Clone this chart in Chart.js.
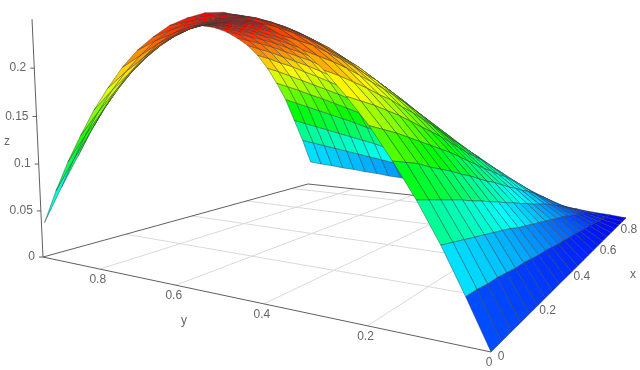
<!DOCTYPE html>
<html>
<head>
    <meta charset="UTF-8">
    <title>Surface</title>
    <script src="https://cdn.jsdelivr.net/npm/chart.js"></script>
    <style>
        body { margin: 0; background: #fff; }
        canvas { display: block; }
    </style>
</head>
<body>
<canvas id="chart" width="640" height="370"></canvas>
<script>
    const xValues = [0,0.04,0.08,0.12,0.16,0.2,0.24,0.28,0.32,0.36,0.4,0.44,0.48,0.52,0.56,0.6,0.64,0.68,0.72,0.76,0.8,0.84,0.88];
    const yValues = [0,0.04,0.08,0.12,0.16,0.2,0.24,0.28,0.32,0.36,0.4,0.44,0.48,0.52,0.56,0.6,0.64,0.68,0.72,0.76,0.8,0.84,0.88,0.92,0.96];
    // one row per y value, one column per x value
    const zRows = [
        [0,0,0,0,0,0,0,0,0,0,0,0,0,0,0,0,0,0,0,0,0,0,0],
        [.038,.037,.035,.034,.032,.030,.029,.027,.025,.024,.022,.020,.019,.017,.016,.014,.012,.011,.009,.007,.005,.003,.002],
        [.074,.071,.068,.065,.062,.059,.056,.053,.049,.046,.043,.040,.037,.034,.031,.028,.025,.021,.018,.014,.010,.007,.003],
        [.106,.102,.098,.094,.090,.085,.081,.076,.072,.067,.063,.058,.054,.049,.045,.041,.036,.031,.026,.021,.015,.010,.005],
        [.134,.130,.126,.120,.115,.110,.104,.099,.093,.087,.082,.076,.070,.065,.059,.054,.048,.041,.035,.028,.020,.013,.006],
        [.160,.155,.150,.144,.138,.132,.126,.120,.113,.106,.099,.092,.086,.079,.073,.066,.059,.051,.043,.035,.025,.017,.008],
        [.182,.177,.172,.166,.160,.153,.146,.139,.132,.124,.116,.108,.101,.094,.086,.078,.070,.061,.051,.041,.030,.020,.010],
        [.202,.197,.191,.185,.178,.172,.164,.157,.149,.141,.132,.123,.115,.107,.098,.090,.080,.070,.059,.048,.035,.023,.011],
        [.218,.213,.208,.202,.195,.188,.181,.173,.165,.156,.147,.138,.129,.120,.110,.101,.091,.079,.067,.054,.040,.026,.013],
        [.230,.226,.222,.216,.210,.203,.195,.188,.179,.170,.161,.151,.142,.132,.122,.111,.101,.088,.074,.061,.045,.030,.014],
        [.240,.237,.233,.228,.222,.215,.208,.201,.192,.183,.174,.164,.154,.144,.133,.122,.110,.096,.082,.067,.049,.033,.016],
        [.246,.244,.241,.237,.232,.226,.220,.212,.204,.195,.186,.175,.165,.155,.144,.132,.119,.105,.089,.073,.054,.036,.017],
        [.250,.248,.247,.244,.240,.235,.229,.222,.215,.206,.197,.186,.176,.165,.154,.141,.128,.113,.096,.079,.059,.039,.019],
        [.250,.250,.250,.248,.245,.242,.237,.231,.224,.216,.206,.196,.186,.175,.163,.151,.137,.121,.103,.085,.063,.042,.020],
        [.246,.249,.250,.250,.249,.246,.243,.238,.232,.224,.215,.205,.195,.184,.172,.159,.145,.128,.110,.091,.068,.045,.022],
        [.240,.244,.247,.249,.250,.249,.247,.243,.238,.231,.223,.214,.204,.193,.181,.168,.153,.136,.117,.096,.072,.048,.023],
        [.230,.237,.242,.246,.249,.250,.249,.247,.243,.237,.230,.221,.212,.201,.189,.176,.161,.143,.123,.102,.076,.051,.025],
        [.218,.227,.234,.241,.246,.249,.250,.249,.247,.242,.236,.228,.219,.208,.196,.183,.168,.150,.130,.107,.081,.054,.026],
        [.202,.213,.224,.233,.240,.246,.249,.250,.249,.246,.241,.233,.225,.215,.204,.190,.175,.157,.136,.113,.085,.057,.028],
        [.182,.197,.210,.223,.233,.241,.246,.249,.250,.248,.244,.238,.231,.221,.210,.197,.182,.163,.142,.118,.089,.060,.029],
        [.160,.178,.194,.210,.223,.234,.242,.247,.250,.250,.247,.242,.236,.227,.216,.203,.188,.169,.148,.123,.093,.063,.031],
        [.134,.156,.176,.195,.211,.225,.235,.243,.248,.250,.249,.245,.240,.232,.222,.209,.195,.175,.153,.128,.097,.066,.032],
        [.106,.131,.154,.177,.197,.214,.227,.238,.245,.249,.250,.248,.243,.236,.227,.215,.200,.181,.159,.133,.101,.069,.034],
        [.074,.103,.130,.157,.181,.201,.217,.231,.240,.247,.250,.249,.246,.240,.231,.220,.206,.187,.164,.138,.105,.072,.035],
        [.038,.072,.103,.134,.162,.186,.206,.222,.235,.243,.249,.250,.248,.243,.235,.225,.211,.192,.169,.143,.109,.075,.037]
    ];
    const xTicks = [0,0.2,0.4,0.6,0.8];
    const yTicks = [0,0.2,0.4,0.6,0.8];
    const zTicks = [0,0.05,0.1,0.15,0.2];
    const X_MAX = 0.88, Y_MAX = 0.97, Z_TOP = 0.25;

    // camera fitted to the box corners, gives values on the chart's x/y scales
    function project(x, y, z) {
        const u = x / X_MAX, v = y / Y_MAX;
        const w = 0.7961 * u + 0.4648 * v - 0.223 * z + 1;
        return {
            x: (633.4 * u - 428 * v - 71.6 * z + 491) / w,
            y: (39.5 * u + 24.5 * v - 1398.6 * z + 352) / w,
            w: w
        };
    }

    function jet(z) {
        const t = Math.min(1, Math.max(0, z / 0.25)) * 4;
        const stops = [[0,0,255],[0,255,255],[0,255,0],[255,255,0],[255,0,0]];
        const i = Math.min(3, Math.floor(t)), f = t - i;
        const c = stops[i].map((s, k) => Math.round(s + (stops[i + 1][k] - s) * f));
        return `rgb(${c[0]},${c[1]},${c[2]})`;
    }

    function lineSet(a, b, color, width, order) {
        return { data: [a, b], borderColor: color, borderWidth: width, showLine: true, pointRadius: 0, fill: false, order: order };
    }

    const datasets = [];
    const GRID = '#d9d9d9', AXIS = '#5f5f5f';
    // floor and axes
    xTicks.slice(1).forEach(t => datasets.push(lineSet(project(t, 0, 0), project(t, Y_MAX, 0), GRID, 1, 5000)));
    yTicks.slice(1).forEach(t => datasets.push(lineSet(project(0, t, 0), project(X_MAX, t, 0), GRID, 1, 5000)));
    datasets.push(lineSet(project(0, 0, 0), project(0, Y_MAX, 0), AXIS, 1, 4000));
    datasets.push(lineSet(project(0, Y_MAX, 0), project(X_MAX, Y_MAX, 0), AXIS, 1, 4000));
    datasets.push(lineSet(project(X_MAX, Y_MAX, 0), project(X_MAX, 0, 0), AXIS, 1, 4000));
    datasets.push(lineSet(project(0, Y_MAX, 0), project(0, Y_MAX, Z_TOP), AXIS, 1, 4000));

    // surface cells, far ones drawn first
    const quads = [];
    for (let j = 0; j < yValues.length - 1; j++) {
        for (let i = 0; i < xValues.length - 1; i++) {
            const zs = [zRows[j][i], zRows[j][i + 1], zRows[j + 1][i + 1], zRows[j + 1][i]];
            const pts = [project(xValues[i], yValues[j], zs[0]), project(xValues[i + 1], yValues[j], zs[1]),
                         project(xValues[i + 1], yValues[j + 1], zs[2]), project(xValues[i], yValues[j + 1], zs[3])];
            const depth = (pts[0].w + pts[1].w + pts[2].w + pts[3].w) / 4;
            const avg = (zs[0] + zs[1] + zs[2] + zs[3]) / 4;
            quads.push({ pts, depth, avg });
        }
    }
    quads.sort((a, b) => b.depth - a.depth);
    quads.forEach((q, n) => {
        datasets.push({
            data: [...q.pts, q.pts[0]],
            showLine: true, pointRadius: 0, fill: 'shape',
            backgroundColor: jet(q.avg),
            borderColor: 'rgba(50,60,60,0.55)', borderWidth: 0.8,
            order: 3000 - n
        });
    });

    const labelPlugin = {
        id: 'labels',
        afterDraw(chart) {
            const c = chart.ctx, sx = chart.scales.x, sy = chart.scales.y;
            const put = (txt, px, py, align) => {
                c.textAlign = align || 'center';
                c.fillText(txt, sx.getPixelForValue(px), sy.getPixelForValue(py));
            };
            c.save();
            c.font = '12px "Liberation Sans", Arial, sans-serif';
            c.fillStyle = '#666';
            c.textBaseline = 'middle';
            c.strokeStyle = AXIS;
            zTicks.forEach(t => {
                const p = project(0, Y_MAX, t);
                c.beginPath();
                c.moveTo(sx.getPixelForValue(p.x) - 4, sy.getPixelForValue(p.y));
                c.lineTo(sx.getPixelForValue(p.x), sy.getPixelForValue(p.y));
                c.stroke();
                put(String(t), p.x - 8, p.y, 'right');
            });
            yTicks.forEach(t => {
                const p = project(0, t, 0);
                put(String(t), p.x - 2, p.y + 11);
            });
            xTicks.forEach(t => {
                const p = project(t, 0, 0);
                put(String(t), p.x + 10, p.y + 5);
            });
            put('z', 7, 142);
            put('y', 184, 321);
            put('x', 633, 275);
            c.restore();
        }
    };

    new Chart(document.getElementById('chart').getContext('2d'), {
        type: 'scatter',
        data: { datasets },
        options: {
            responsive: false,
            animation: false,
            events: [],
            layout: { padding: 0 },
            plugins: { legend: { display: false }, tooltip: { enabled: false } },
            scales: {
                x: { type: 'linear', min: 0, max: 640, display: false },
                y: { type: 'linear', min: 0, max: 370, reverse: true, display: false }
            }
        },
        plugins: [labelPlugin]
    });
</script>
</body>
</html>
